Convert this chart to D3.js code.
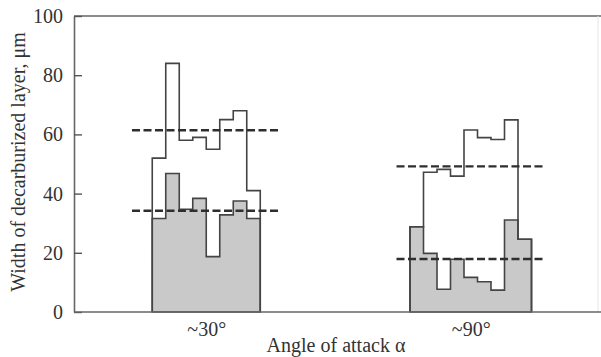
<!DOCTYPE html>
<html>
<head>
<meta charset="utf-8">
<script src="https://cdn.jsdelivr.net/npm/d3@7"></script>
<style>
  body { margin: 0; background: #fff; }
  text { font-family: "Liberation Serif", "Times New Roman", serif; fill: #333; }
</style>
</head>
<body>
<div id="chart"></div>
<script>
// categories and series (values in µm)
const categories = ["~30°", "~90°"];
const upper30 = [52, 84, 58, 59, 55, 65, 68, 41];
const lower30 = [31.6, 46.8, 34.7, 38.4, 18.7, 32.8, 37.5, 31.6];
const upper90 = [28.8, 47.2, 48.2, 45.9, 61.5, 58.9, 58.3, 64.9, 24.6];
const lower90 = [28.8, 19.8, 7.7, 17.8, 11.7, 10.2, 7.4, 31.1, 24.6];
const meanUpper = [61.4, 49.2];
const meanLower = [34.2, 17.9];
const yTicks = [0, 20, 40, 60, 80, 100];

const width = 601;
const height = 357;

// plot frame
const marginTop = 16;
const marginLeft = 74;
const plotBottom = 312;
const plotRight = 598;

const binWidth = 13.5;      // width of one step of the histogram
const dashHalf = 5.5;       // mean lines reach this many bins each side

const svg = d3.select('#chart').append('svg')
  .attr('width', width)
  .attr('height', height);

// frame runs slightly past the picture edge
const x = d3.scalePoint()
  .domain(categories)
  .range([marginLeft, width + 2])
  .padding(0.5);

const y = d3.scaleLinear()
  .domain([0, 100])
  .range([plotBottom, marginTop]);

// frame lines (top, right edge is faint)
svg.append('line')
  .attr('x1', marginLeft).attr('x2', width)
  .attr('y1', y(100)).attr('y2', y(100))
  .attr('stroke', '#666').attr('stroke-width', 1.6);
svg.append('line')
  .attr('x1', plotRight).attr('x2', plotRight)
  .attr('y1', y(100)).attr('y2', y(0))
  .attr('stroke', '#e6e6e6').attr('stroke-width', 1);

const groups = [
  { cat: categories[0], upper: upper30, lower: lower30, mu: meanUpper[0], ml: meanLower[0] },
  { cat: categories[1], upper: upper90, lower: lower90, mu: meanUpper[1], ml: meanLower[1] }
];

groups.forEach(g => {
  const n = g.lower.length;
  const left = x(g.cat) - n * binWidth / 2;
  const bx = i => left + i * binWidth;

  // filled lower histogram
  const lowPts = g.lower.map((v, i) => [i, v]).concat([[n, g.lower[n - 1]]]);
  const area = d3.area()
    .curve(d3.curveStepAfter)
    .x(d => bx(d[0]))
    .y0(y(0))
    .y1(d => y(d[1]));
  svg.append('path')
    .attr('d', area(lowPts))
    .attr('fill', '#c9c9c9')
    .attr('stroke', '#444')
    .attr('stroke-width', 1.6);

  // open upper histogram
  const upPts = [[0, 0]]
    .concat(g.upper.map((v, i) => [i, v]))
    .concat([[n, g.upper[n - 1]], [n, 0]]);
  const line = d3.line()
    .curve(d3.curveStepAfter)
    .x(d => bx(d[0]))
    .y(d => y(d[1]));
  svg.append('path')
    .attr('d', line(upPts))
    .attr('fill', 'none')
    .attr('stroke', '#444')
    .attr('stroke-width', 1.6);

  // mean values, dashed
  [g.mu, g.ml].forEach(m => {
    svg.append('line')
      .attr('x1', x(g.cat) - dashHalf * binWidth)
      .attr('x2', x(g.cat) + dashHalf * binWidth)
      .attr('y1', y(m)).attr('y2', y(m))
      .attr('stroke', '#2e2e2e')
      .attr('stroke-width', 2.4)
      .attr('stroke-dasharray', '8,3.5');
  });
});

// y axis, ticks point inward
const yAxis = svg.append('g')
  .attr('transform', `translate(${marginLeft}, 0)`)
  .call(d3.axisLeft(y).tickValues(yTicks).tickSizeInner(-8).tickSizeOuter(0).tickPadding(11));
yAxis.select('.domain').attr('stroke', '#666').attr('stroke-width', 1.6);
yAxis.selectAll('.tick line').attr('stroke', '#555').attr('stroke-width', 1.4);
yAxis.selectAll('.tick text')
  .style('font-size', '20px')
  .attr('fill', '#333');

// x axis
const xAxis = svg.append('g')
  .attr('transform', `translate(0, ${plotBottom})`)
  .call(d3.axisBottom(x).tickSize(0).tickPadding(9.5));
xAxis.select('.domain').remove();
xAxis.selectAll('.tick text')
  .style('font-size', '20px')
  .attr('fill', '#333');

svg.append('line')
  .attr('x1', marginLeft).attr('x2', width)
  .attr('y1', plotBottom).attr('y2', plotBottom)
  .attr('stroke', '#666').attr('stroke-width', 1.6);

// axis titles
svg.append('text')
  .attr('x', (marginLeft + plotRight) / 2)
  .attr('y', 351.5)
  .attr('text-anchor', 'middle')
  .style('font-size', '20px')
  .text('Angle of attack α');

svg.append('text')
  .attr('transform', 'translate(25, 162) rotate(-90)')
  .attr('text-anchor', 'middle')
  .style('font-size', '20px')
  .text('Width of decarburized layer, μm');
</script>
</body>
</html>
